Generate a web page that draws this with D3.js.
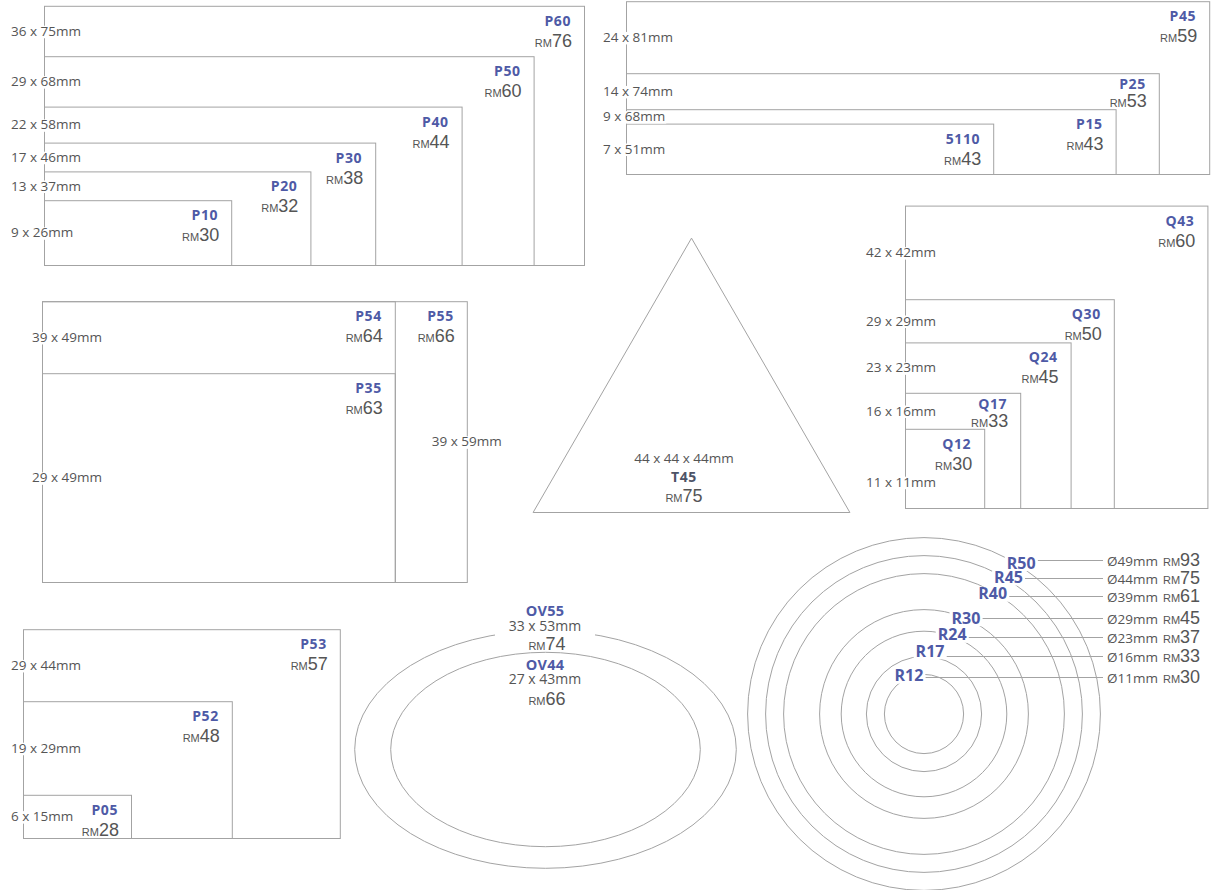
<!DOCTYPE html>
<html><head><meta charset="utf-8">
<script src="https://cdn.jsdelivr.net/npm/d3@7"></script>
<style>
body{margin:0;background:#fff}
svg{display:block}
</style></head><body>
<svg id="chart" width="1214" height="890"></svg>
<script>
// ---------------- data (sizes in mm, prices in RM) ----------------
const g1Names = ["P60","P50","P40","P30","P20","P10"];
const g1H = [36,29,22,17,13,9];
const g1W = [75,68,58,46,37,26];
const g1Price = [76,60,44,38,32,30];

const g2Names = ["P45","P25","P15","5110"];
const g2H = [24,14,9,7];
const g2W = [81,74,68,51];
const g2Price = [59,53,43,43];

const g3Names = ["P55","P54","P35"];
const g3H = [39,39,29];
const g3W = [59,49,49];
const g3Price = [66,64,63];

const sqNames = ["Q43","Q30","Q24","Q17","Q12"];
const sqSide = [42,29,23,16,11];
const sqPrice = [60,50,45,33,30];

const g5Names = ["P53","P52","P05"];
const g5H = [29,19,6];
const g5W = [44,29,15];
const g5Price = [57,48,28];

const triName = "T45";
const triSide = 44;
const triPrice = 75;

const ovNames = ["OV55","OV44"];
const ovH = [33,27];
const ovW = [53,43];
const ovPrice = [74,66];

const rNames = ["R50","R45","R40","R30","R24","R17","R12"];
const rDiam = [49,44,39,29,23,16,11];
const rPrice = [93,75,61,45,37,33,30];

// ---------------- styling / layout ----------------
const ringLabelAngle = [33,32,30,24,20,6,-21];          // degrees clockwise from top
const ringLabelOffset = [3,2,-2,0,1,5,1];               // radial offset of labels (px)
const ringLineY = [560,578,596,618,637,656,677];        // leader line rows (px)
const LINE = "#a3a3a3", NAME = "#4e5aa6", DIM = "#555", PRICE = "#555";
const FONT = "'Open Sans','DejaVu Sans',sans-serif";
const PFONT = "'Liberation Sans',Arial,sans-serif";

const S = d3.scaleLinear().domain([0, 10]).range([0, 72]); // mm -> px

const svg = d3.select("#chart");
const shapes = svg.append("g").attr("transform","translate(0.5,0.5)")
  .attr("fill","none").attr("stroke",LINE).attr("stroke-width",1);
const lines = svg.append("g").attr("stroke", LINE).attr("stroke-width", 1);
const knock = svg.append("g").attr("fill","#fff");
const texts = svg.append("g");

function knockout(t, padX, padTop, padBot) {
  const b = t.node().getBBox();
  knock.append("rect")
    .attr("x", b.x - padX).attr("y", b.y + padTop)
    .attr("width", b.width + 2*padX).attr("height", Math.max(0, b.height - padTop - padBot));
}
function dimText(x, yc, str, anchor, padX, size) {
  const fs = size || 13.5;
  const t = texts.append("text")
    .attr("x", x).attr("y", yc + fs*0.35)
    .attr("text-anchor", anchor || "start")
    .attr("font-family", FONT).attr("font-size", fs).attr("fill", DIM)
    .text(str);
  knockout(t, padX == null ? 1 : padX, 4, 1.5);
  return t;
}
function nameText(x, y, str, anchor, size, ls) {
  return texts.append("text").attr("x", x).attr("y", y)
    .attr("text-anchor", anchor || "end")
    .attr("font-family", FONT).attr("font-weight", 700)
    .attr("font-size", size || 14).attr("letter-spacing", ls == null ? 0.6 : ls)
    .attr("fill", NAME).text(str);
}
function priceText(x, y, value, anchor) {
  const t = texts.append("text").attr("x", x).attr("y", y)
    .attr("text-anchor", anchor || "end")
    .attr("font-family", PFONT).attr("fill", PRICE);
  t.append("tspan").attr("font-size", 11).text("RM");
  t.append("tspan").attr("font-size", 18).text(value);
  return t;
}
function buildItems(x0, y0, names, H, W, prices) {
  return names.map((n,i) => ({name:n, h:H[i], w:W[i], price:prices[i],
    x:x0, y:y0 - S(H[i]), right:x0 + S(W[i])}));
}
function drawRects(items) {
  shapes.selectAll(null).data(items).enter().append("rect")
    .attr("x", d => d.x).attr("y", d => d.y)
    .attr("width", d => S(d.w)).attr("height", d => S(d.h));
}
function labelPair(d, next) {
  let py = d.y + 41, ny = d.y + 20;
  if (next && next.right > d.right - 62) {
    py = Math.min(py, next.y - 2);
    ny = Math.max(d.y + 16, py - 21);
  }
  nameText(d.right - 13, ny, d.name);
  priceText(d.right - 12, py, d.price);
}
function rectGroup(x0, y0, names, H, W, prices, labelX, lastLabelY) {
  const items = buildItems(x0, y0, names, H, W, prices);
  drawRects(items);
  items.forEach((d,i) => {
    const next = items[i+1];
    const nextTop = next ? next.y : y0;
    const ly = (i === items.length-1 && lastLabelY != null) ? lastLabelY : (d.y + nextTop)/2;
    dimText(labelX, ly, `${d.h} x ${d.w}mm`);
    labelPair(d, next);
  });
}

// ---------------- groups of rectangles ----------------
rectGroup(44, 265, g1Names, g1H, g1W, g1Price, 11);
rectGroup(626, 174, g2Names, g2H, g2W, g2Price, 603);
rectGroup(905, 508, sqNames, sqSide, sqSide, sqPrice, 866, 508 - 26);
rectGroup(23, 838, g5Names, g5H, g5W, g5Price, 11);

// middle-left group (P55 / P54 / P35)
(function(){
  const x0 = 42, y0 = 582;
  const it = buildItems(x0, y0, g3Names, g3H, g3W, g3Price);
  drawRects(it);
  const [p55, p54, p35] = it;
  dimText(32, (p54.y + p35.y)/2, `${p54.h} x ${p54.w}mm`);
  dimText(32, (p35.y + y0)/2, `${p35.h} x ${p35.w}mm`);
  dimText(p55.right, (p55.y + y0)/2, `${p55.h} x ${p55.w}mm`, "middle", 2);
  labelPair(p55, null);
  labelPair(p54, p35);
  labelPair(p35, null);
})();

// ---------------- triangle ----------------
(function(){
  const side = S(triSide), th = side*Math.sqrt(3)/2;
  const cx = 691, by = 512;
  shapes.append("path").attr("d",
    d3.line()([[cx - side/2, by],[cx, by - th],[cx + side/2, by]]) + "Z");
  dimText(684, 458.5, `${triSide} x ${triSide} x ${triSide}mm`, "middle", 0);
  nameText(684, 482, triName, "middle", 14, 0.6).attr("fill", "#4d5366");
  priceText(684, 502, triPrice, "middle");
})();

// ---------------- ovals ----------------
(function(){
  const cx = 545, cy = 749;
  const ov = ovNames.map((n,i) => ({name:n, h:ovH[i], w:ovW[i], price:ovPrice[i]}));
  shapes.selectAll(null).data(ov).enter().append("ellipse")
    .attr("cx", cx).attr("cy", cy)
    .attr("rx", d => S(d.w)/2).attr("ry", d => S(d.h)/2);
  const outerTop = cy - S(ov[0].h)/2;
  knock.append("rect").attr("x", cx - 50).attr("y", outerTop - 12).attr("width", 100).attr("height", 31);
  ov.forEach((d,i) => {
    const top = cy - S(d.h)/2;
    const nb = i === 0 ? top - 14 : top + 18;
    const dc = i === 0 ? top - 4.5 : top + 27.5;
    const pb = i === 0 ? top + 20 : top + 53;
    nameText(cx, nb, d.name, "middle", 14.5, 0.3);
    texts.append("text").attr("x", cx).attr("y", dc + 5)
      .attr("text-anchor","middle").attr("font-family", FONT).attr("font-size", 14)
      .attr("fill", DIM).text(`${d.h} x ${d.w}mm`);
    priceText(cx + 2, pb, d.price, "middle");
  });
})();

// ---------------- circles ----------------
(function(){
  const cx = 923.5, cy = 713.5, lineEnd = 1103, textStart = 1107;
  const rings = rNames.map((n,i) => ({name:n, d:rDiam[i], price:rPrice[i],
    a:ringLabelAngle[i], off:ringLabelOffset[i], ly:ringLineY[i]}));
  shapes.selectAll(null).data(rings).enter().append("circle")
    .attr("cx", cx).attr("cy", cy).attr("r", d => S(d.d)/2);
  rings.forEach(d => {
    const r = S(d.d)/2 + d.off, a = d.a*Math.PI/180;
    const x = cx + r*Math.sin(a), y = cy - r*Math.cos(a);
    const t = nameText(x, y + 5.6, d.name, "middle", 16, 0);
    knockout(t, 2, 4.5, 2.5);
    const b = t.node().getBBox();
    lines.append("line").attr("x1", b.x + b.width + 2).attr("x2", lineEnd)
      .attr("y1", d.ly + 0.5).attr("y2", d.ly + 0.5);
    const rt = texts.append("text").attr("x", textStart).attr("y", d.ly + 5.5)
      .attr("text-anchor", "start").attr("fill", DIM);
    rt.append("tspan").attr("font-family", FONT).attr("font-size", 13.5).text(`Ø${d.d}mm`);
    rt.append("tspan").attr("font-family", PFONT).attr("font-size", 11).attr("dx", 5).text("RM");
    rt.append("tspan").attr("font-family", PFONT).attr("font-size", 18).text(d.price);
  });
})();
</script>
</body></html>
